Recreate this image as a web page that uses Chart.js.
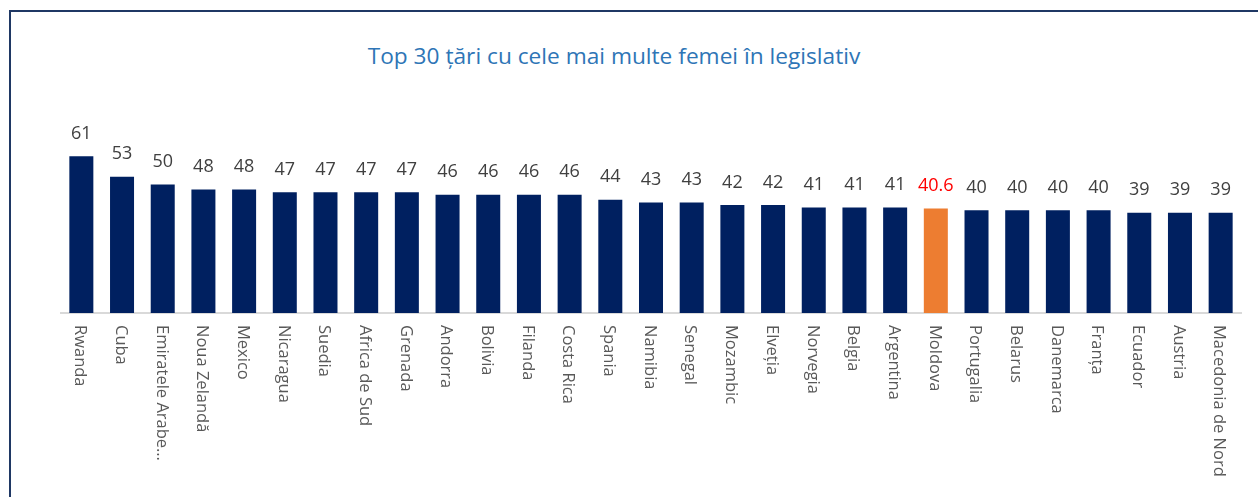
<!DOCTYPE html>
<html>
<head>
<meta charset="utf-8">
<script src="https://cdn.jsdelivr.net/npm/chart.js@4"></script>
<style>
  html, body { margin: 0; padding: 0; background: #fff; overflow: hidden; }
  #wrap { position: relative; width: 1258px; height: 497px; }
  #frame {
    position: absolute; left: 9px; top: 10px; width: 1400px; height: 700px;
    border: 2.5px solid #1f3864; box-sizing: border-box;
  }
  #title {
    position: absolute; left: 0; width: 1228px; top: 41px; text-align: center;
    font-family: 'Open Sans', sans-serif; font-size: 22.7px; line-height: 30px; color: #2e75b6;
  }
  canvas { position: absolute; left: 0; top: 0; }
</style>
</head>
<body>
<div id="wrap">
  <div id="frame"></div>
  <div id="title">Top 30 țări cu cele mai multe femei în legislativ</div>
  <canvas id="chart" width="1258" height="497"></canvas>
</div>
<script>
const COUNTRIES = [
  'Rwanda', 'Cuba', 'Emiratele Arabe…', 'Noua Zelandă', 'Mexico', 'Nicaragua',
  'Suedia', 'Africa de Sud', 'Grenada', 'Andorra', 'Bolivia', 'Filanda',
  'Costa Rica', 'Spania', 'Namibia', 'Senegal', 'Mozambic', 'Elveția',
  'Norvegia', 'Belgia', 'Argentina', 'Moldova', 'Portugalia', 'Belarus',
  'Danemarca', 'Franța', 'Ecuador', 'Austria', 'Macedonia de Nord',
];
const WOMEN_SHARE = [
  61, 53, 50, 48, 48, 47, 47, 47, 47, 46, 46, 46, 46, 44, 43, 43, 42, 42,
  41, 41, 41, 40.6, 40, 40, 40, 40, 39, 39, 39,
];
const HIGHLIGHT = 'Moldova';

const NAVY = '#002060';
const ORANGE = '#ed7d31';

// value labels above bars + rotated category labels (top-to-bottom reading)
const labelPlugin = {
  id: 'labels',
  afterDatasetsDraw(chart) {
    const ctx = chart.ctx;
    const meta = chart.getDatasetMeta(0);
    const xScale = chart.scales.x;
    ctx.save();
    ctx.font = '18px "Open Sans"';
    ctx.textAlign = 'center';
    ctx.textBaseline = 'alphabetic';
    meta.data.forEach((bar, i) => {
      ctx.fillStyle = COUNTRIES[i] === HIGHLIGHT ? '#ff0000' : '#404040';
      ctx.fillText(String(WOMEN_SHARE[i]), bar.x, bar.y - 17.5);
    });
    ctx.font = '16.5px "Open Sans"';
    ctx.fillStyle = '#595959';
    ctx.textAlign = 'left';
    ctx.textBaseline = 'middle';
    COUNTRIES.forEach((name, i) => {
      const x = xScale.getPixelForValue(i) - 1.5;
      ctx.save();
      ctx.translate(x, chart.chartArea.bottom + 12);
      ctx.rotate(Math.PI / 2);
      ctx.fillText(name, 0, 0);
      ctx.restore();
    });
    ctx.restore();
  },
};

new Chart(document.getElementById('chart'), {
  type: 'bar',
  data: {
    labels: COUNTRIES,
    datasets: [{
      data: WOMEN_SHARE,
      backgroundColor: COUNTRIES.map((c) => (c === HIGHLIGHT ? ORANGE : NAVY)),
      borderWidth: 0,
      categoryPercentage: 1,
      barPercentage: 0.59,
    }],
  },
  options: {
    responsive: false,
    animation: false,
    events: [],
    layout: { padding: { left: 61, right: 17, top: 133, bottom: 0 } },
    plugins: {
      legend: { display: false },
      title: { display: false },
      tooltip: { enabled: false },
    },
    scales: {
      x: {
        grid: { display: false },
        border: { display: true, color: '#d9d9d9', width: 2 },
        ticks: { display: false },
        afterFit: (scale) => { scale.height = 184; },
      },
      y: {
        display: false,
        min: 0,
        max: 70,
      },
    },
  },
  plugins: [labelPlugin],
});
</script>
</body>
</html>
